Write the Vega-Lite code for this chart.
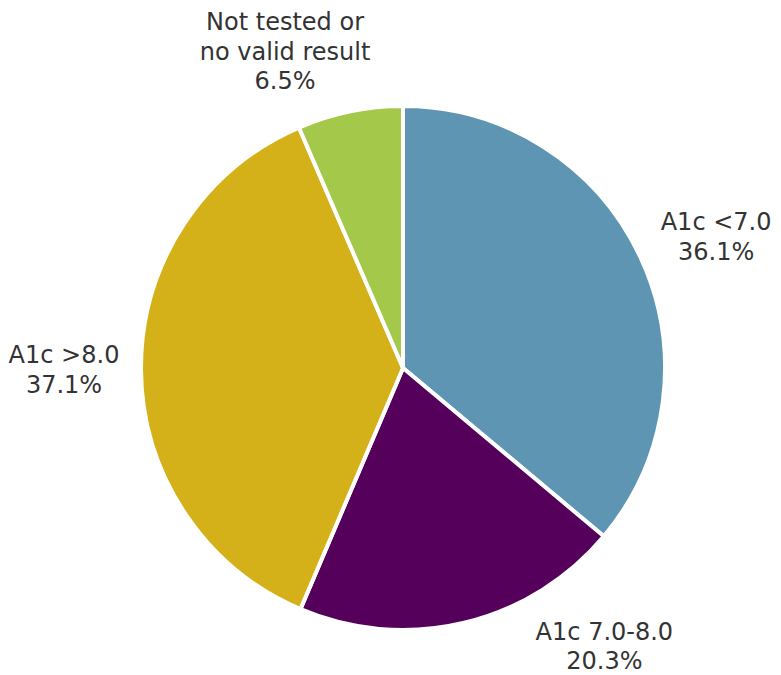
{
  "$schema": "https://vega.github.io/schema/vega-lite/v6.json",
  "autosize": "none",
  "width": 756,
  "height": 616,
  "padding": {"left": 25, "top": 60, "right": 0, "bottom": 0},
  "background": "white",
  "config": {"view": {"stroke": null}},
  "data": {
    "values": [
      {"category": "A1c <7.0", "value": 36.1, "order": 1, "label": "A1c <7.0\n36.1%"},
      {"category": "A1c 7.0-8.0", "value": 20.3, "order": 2, "label": "A1c 7.0-8.0\n20.3%"},
      {"category": "A1c >8.0", "value": 37.1, "order": 3, "label": "A1c >8.0\n37.1%"},
      {"category": "Not tested or no valid result", "value": 6.5, "order": 4, "label": "Not tested or\nno valid result\n6.5%"}
    ]
  },
  "encoding": {
    "theta": {"field": "value", "type": "quantitative", "stack": true},
    "order": {"field": "order", "type": "quantitative", "sort": "ascending"}
  },
  "layer": [
    {
      "mark": {"type": "arc", "outerRadius": 262, "stroke": "white", "strokeWidth": 4},
      "encoding": {
        "color": {
          "field": "category",
          "type": "nominal",
          "scale": {
            "domain": ["A1c <7.0", "A1c 7.0-8.0", "A1c >8.0", "Not tested or no valid result"],
            "range": ["#5E95B2", "#55005A", "#D4B119", "#A4C84A"]
          },
          "legend": null
        }
      }
    },
    {
      "mark": {"type": "text", "radius": 340, "dx": 5, "dy": -1, "font": "DejaVu Sans", "fontSize": 24, "color": "#333333", "lineBreak": "\n", "lineHeight": 29.5, "align": "center", "baseline": "middle"},
      "encoding": {
        "text": {"condition": {"test": "datum.category === 'A1c <7.0'", "field": "label"}, "value": ""}
      }
    },
    {
      "mark": {"type": "text", "radius": 340, "dx": 122, "dy": -66, "font": "DejaVu Sans", "fontSize": 24, "color": "#333333", "lineBreak": "\n", "lineHeight": 29.5, "align": "center", "baseline": "middle"},
      "encoding": {
        "text": {"condition": {"test": "datum.category === 'A1c 7.0-8.0'", "field": "label"}, "value": ""}
      }
    },
    {
      "mark": {"type": "text", "radius": 340, "dx": 1, "dy": -13, "font": "DejaVu Sans", "fontSize": 24, "color": "#333333", "lineBreak": "\n", "lineHeight": 29.5, "align": "center", "baseline": "middle"},
      "encoding": {
        "text": {"condition": {"test": "datum.category === 'A1c >8.0'", "field": "label"}, "value": ""}
      }
    },
    {
      "mark": {"type": "text", "radius": 340, "dx": -49, "dy": -12, "font": "DejaVu Sans", "fontSize": 24, "color": "#333333", "lineBreak": "\n", "lineHeight": 29.5, "align": "center", "baseline": "middle"},
      "encoding": {
        "text": {"condition": {"test": "datum.category === 'Not tested or no valid result'", "field": "label"}, "value": ""}
      }
    }
  ]
}
